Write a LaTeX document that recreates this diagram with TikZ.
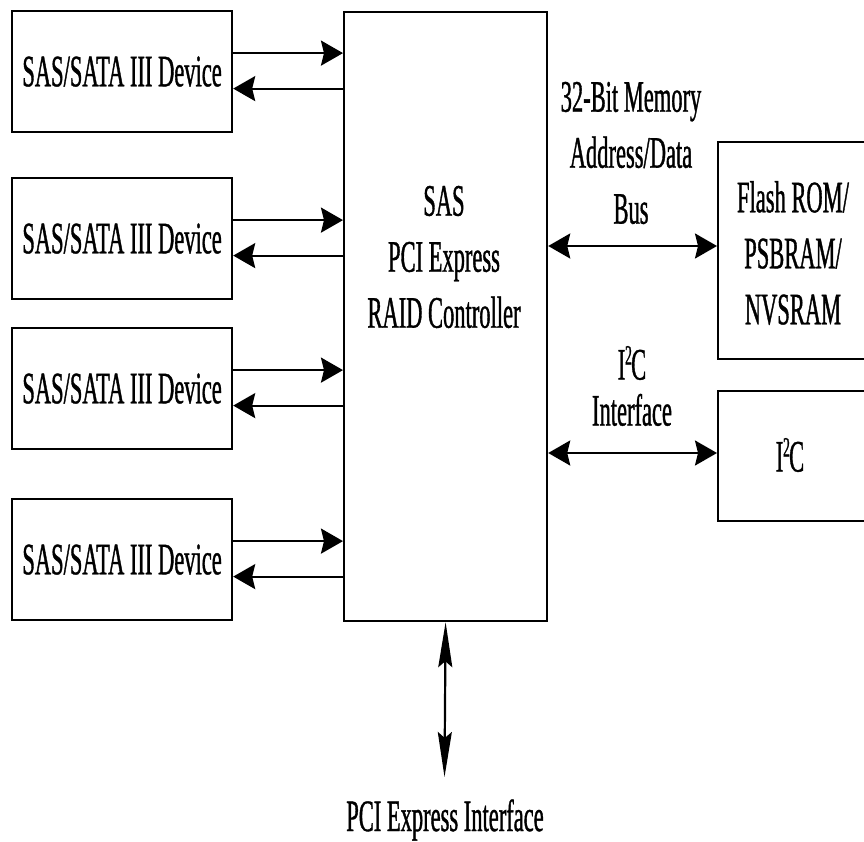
\documentclass[tikz,border=0pt]{standalone}
\usepackage{fontspec}
\setmainfont{Liberation Serif}[FakeStretch=0.5,FakeBold=0.8]
\usetikzlibrary{arrows.meta}
\newcommand{\itwoc}{I\kern-0.3pt\raisebox{15pt}{\fontsize{28}{28}\selectfont 2}\kern-0.8pt C}
\begin{document}
\begin{tikzpicture}[x=1pt,y=-1pt,
  line width=2.2pt,
  txt/.style={font=\fontsize{45}{56}\selectfont, align=center, inner sep=0pt},
  box/.style={draw, line width=2.2pt, inner sep=0pt, anchor=north west},
  dev/.style={box, minimum width=220pt, minimum height=121pt, txt},
  ha/.style={-{Stealth[length=22pt,width=25pt,inset=3pt]}},
  dha/.style={{Stealth[length=22pt,width=25pt,inset=3pt]}-{Stealth[length=22pt,width=25pt,inset=3pt]}},
  dva/.style={{Stealth[length=45pt,width=14pt,inset=6pt]}-{Stealth[length=45pt,width=14pt,inset=6pt]}},
  up/.style={yshift=18.5pt},
  dn/.style={yshift=-17pt}
]
\clip (0,0) rectangle (864,841);
% device boxes
\node[dev] (d1) at (11,10) {SAS/SATA III Device};
\node[dev] (d2) at (11,177) {SAS/SATA III Device};
\node[dev] (d3) at (11,327) {SAS/SATA III Device};
\node[dev] (d4) at (11,498) {SAS/SATA III Device};
% controller
\node[box, minimum width=203pt, minimum height=609pt] (ctrl) at (343,11) {};
\node[txt] (ctrlt) at (444,257) {SAS\\PCI Express\\RAID Controller};
% memory box (open to the right edge)
\node[box, minimum width=260pt, minimum height=217pt] (flash) at (717,141) {};
\node[txt] (flasht) at (793,253) {Flash ROM/\\PSBRAM/\\NVSRAM};
% I2C box
\node[box, minimum width=260pt, minimum height=130pt] (i2c) at (717,390) {};
\node[txt] (i2ct) at (790,455) {\itwoc};
% labels
\node[txt] (busl) at (631,153) {32-Bit Memory\\Address/Data\\Bus};
\node[txt] (i2cl) at (632,386) {\itwoc\\[-10pt]Interface};
\node[txt] (pcil) at (445,820) {PCI Express Interface};
% device arrows
\foreach \d in {d1,d2,d3,d4}{
  \draw[ha] ([up]\d.east) -- ([up]\d.east -| ctrl.west);
  \draw[ha] ([dn]\d.east -| ctrl.west) -- ([dn]\d.east);
}
% right side arrows
\coordinate (busy) at (0,246);
\coordinate (i2cy) at (0,453);
\draw[dha] (ctrl.east |- busy) -- (flash.west |- busy);
\draw[dha] (ctrl.east |- i2cy) -- (i2c.west |- i2cy);
% PCI express
\coordinate (pcie) at (444.5,777);
\draw[dva] (ctrl.south) -- (pcie);
\end{tikzpicture}
\end{document}
